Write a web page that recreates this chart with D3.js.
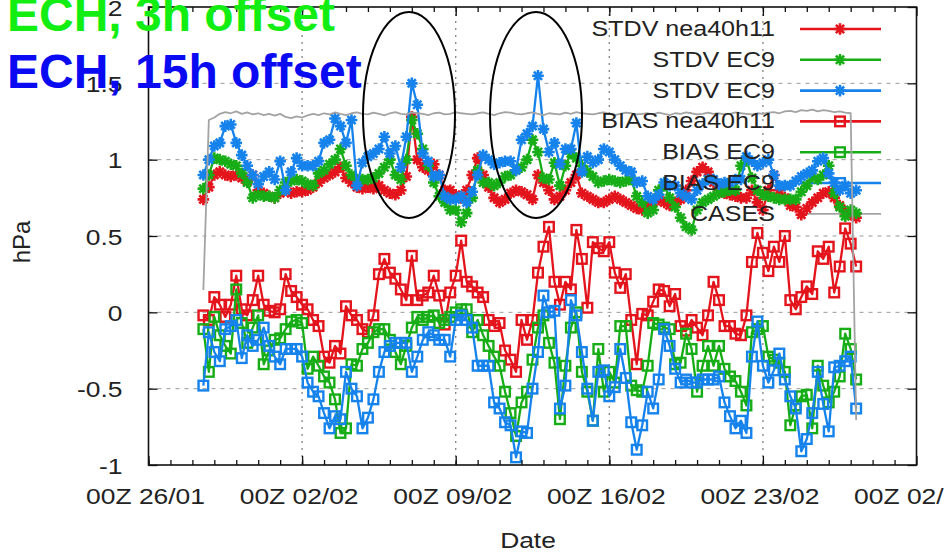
<!DOCTYPE html>
<html><head><meta charset="utf-8">
<script src="https://cdn.jsdelivr.net/npm/d3@7"></script>
<style>
html,body{margin:0;padding:0;background:#fff;overflow:hidden}
svg{display:block}
text{font-family:"Liberation Sans",Arial,Helvetica,sans-serif;fill:#222}
</style></head><body>
<svg id="chart" width="944" height="552"></svg>
<script>
// ---------- data ----------
const startTime = "2009-01-28T12:00:00Z";   // first sample
const stepHours = 6;                         // sampling interval
const xDomain = ["2009-01-26T00:00:00Z", "2009-03-02T00:00:00Z"];
const xMajorTicks = ["2009-01-26","2009-02-02","2009-02-09","2009-02-16","2009-02-23","2009-03-02"];
const yTicks = [-1, -0.5, 0, 0.5, 1, 1.5, 2];
const yTickLabels = ["-1", "-0.5", "0", "0.5", "1", "1.5", "2"];
const legendNames = ["STDV nea40h11", "STDV EC9", "STDV EC9", "BIAS nea40h11", "BIAS EC9", "BIAS EC9", "CASES"];

const stdvNea = [0.74,0.82,0.90,0.92,0.90,0.89,0.90,0.88,0.86,0.90,
 0.80,0.78,0.76,0.75,0.78,0.80,0.78,0.79,0.79,0.80,
 0.82,0.85,0.88,0.90,0.92,0.95,0.88,0.85,0.82,0.81,
 0.82,0.81,0.83,0.80,0.78,0.77,0.80,0.89,1.28,1.00,
 0.95,0.93,0.97,0.90,0.80,0.80,0.77,0.75,0.80,0.90,
 1.01,0.90,0.82,0.75,0.72,0.74,0.78,0.80,0.79,0.77,
 0.74,0.90,0.85,0.80,0.74,0.76,0.80,0.85,0.90,0.78,
 0.76,0.74,0.72,0.72,0.74,0.76,0.74,0.72,0.70,0.68,
 0.67,0.69,0.72,0.74,0.72,0.70,0.72,0.74,0.80,0.86,
 0.92,0.95,0.92,0.85,0.80,0.78,0.77,0.76,0.75,0.75,
 0.80,0.72,0.67,0.80,0.90,0.80,0.75,0.70,0.69,0.64,
 0.68,0.72,0.75,0.78,0.79,0.75,0.70,0.66,0.64,0.62];

const stdvEc9a = [0.81,0.90,1.01,1.00,0.99,0.97,0.96,0.91,0.85,0.75,
 0.77,0.76,0.76,0.75,0.80,0.85,0.86,0.87,0.86,0.84,
 0.83,0.91,0.93,0.97,1.00,1.07,0.96,0.90,0.87,0.87,
 0.87,0.88,0.91,0.95,1.00,0.90,0.87,1.00,1.26,1.17,
 1.07,0.96,0.85,0.76,0.72,0.67,0.67,0.59,0.65,0.75,
 0.93,0.85,0.85,0.83,0.85,0.89,0.90,0.93,0.95,1.00,
 1.13,1.05,0.88,0.87,0.98,0.83,0.96,1.04,1.01,0.96,
 0.92,0.89,0.85,0.86,0.87,0.86,0.85,0.86,0.87,0.76,
 0.72,0.65,0.67,0.80,0.83,0.75,0.69,0.62,0.56,0.54,
 0.67,0.72,0.74,0.76,0.78,0.79,0.80,0.80,0.96,1.00,
 0.88,0.80,0.77,0.76,0.75,0.74,0.74,0.74,0.74,0.79,
 0.83,0.89,0.87,0.90,0.96,0.78,0.69,0.63,0.67,0.65];

const stdvEc9b = [0.90,1.00,1.09,1.11,1.22,1.23,1.11,1.03,0.96,0.90,
 0.84,0.89,0.92,0.87,0.99,0.80,0.92,1.01,0.96,0.96,
 0.96,0.99,1.11,1.13,1.27,1.22,1.11,1.26,0.83,0.98,
 1.02,1.04,1.07,1.15,1.04,1.09,0.95,1.15,1.50,1.36,
 1.04,0.99,0.89,0.90,0.76,0.74,0.74,0.76,0.72,0.79,
 0.90,1.03,1.00,0.97,0.98,0.99,0.99,0.93,1.13,1.17,
 1.22,1.55,1.20,1.05,1.11,0.97,1.07,1.07,1.24,0.92,
 1.02,0.98,1.00,1.07,1.05,1.00,0.96,0.93,0.92,0.85,
 0.86,0.76,0.74,0.77,0.85,0.83,0.83,0.78,0.76,0.74,
 0.80,0.84,0.87,0.87,0.84,0.85,0.85,0.87,0.87,1.02,
 0.99,0.96,0.98,1.00,0.90,0.83,0.83,0.83,0.86,0.89,
 0.91,0.93,0.99,1.01,0.91,0.85,0.80,0.83,0.78,0.80];

const biasNea = [-0.02,-0.05,0.10,0.05,-0.03,0.05,0.24,0.02,-0.02,0.08,
 0.24,0.05,0.01,0.00,0.02,0.25,0.14,0.10,0.05,0.02,
 -0.05,-0.09,-0.29,-0.33,-0.22,-0.27,0.04,-0.02,-0.05,-0.11,
 -0.13,-0.02,0.25,0.35,0.26,0.22,0.15,0.08,0.37,0.08,
 0.11,0.13,0.24,0.11,-0.08,0.13,0.24,0.47,0.20,0.17,
 0.13,0.10,-0.05,-0.09,-0.07,-0.25,-0.31,-0.39,-0.05,-0.18,
 -0.05,0.26,0.43,0.56,0.20,0.05,0.20,0.15,0.54,0.35,
 0.03,0.46,0.42,0.40,0.46,0.26,0.16,0.25,-0.05,-0.34,
 -0.01,-0.02,0.07,0.15,0.14,0.04,0.12,-0.09,-0.12,-0.05,
 -0.10,-0.15,-0.02,0.20,0.08,-0.09,-0.09,-0.14,-0.15,-0.02,
 0.33,0.52,0.39,0.27,0.43,0.33,0.50,0.08,0.02,0.10,
 0.17,0.12,0.40,0.35,0.43,0.13,0.30,0.55,0.45,0.30];

const biasEc9a = [-0.11,-0.39,-0.03,-0.15,-0.22,-0.27,0.15,-0.07,-0.20,-0.10,
 -0.02,-0.34,-0.25,-0.18,-0.17,-0.11,-0.06,-0.05,-0.07,-0.37,
 -0.29,-0.35,-0.42,-0.46,-0.57,-0.79,-0.76,-0.34,-0.35,-0.24,
 -0.20,-0.13,-0.11,-0.11,-0.18,-0.26,-0.34,-0.22,-0.10,-0.03,
 -0.05,-0.03,-0.02,-0.07,-0.05,-0.03,0.00,0.02,0.02,-0.13,
 -0.05,-0.15,-0.22,-0.29,-0.35,-0.52,-0.66,-0.81,-0.59,-0.52,
 -0.31,-0.10,-0.02,-0.20,-0.33,-0.70,-0.35,-0.10,0.00,-0.39,
 -0.52,-0.71,-0.24,-0.52,-0.39,-0.46,-0.09,-0.09,-0.48,-0.51,
 -0.52,-0.35,-0.07,-0.08,-0.10,-0.11,-0.34,-0.33,-0.14,-0.24,
 -0.52,-0.35,-0.22,-0.35,-0.22,-0.37,-0.42,-0.45,-0.52,-0.61,
 -0.13,-0.11,-0.09,-0.29,-0.31,-0.33,-0.39,-0.74,-0.61,-0.55,
 -0.54,-0.76,-0.35,-0.48,-0.59,-0.52,-0.42,-0.14,-0.24,-0.44];

const biasEc9b = [-0.48,-0.13,-0.26,-0.32,-0.11,-0.09,-0.05,-0.30,-0.15,-0.22,
 -0.18,-0.10,-0.22,-0.29,-0.34,-0.24,-0.24,-0.24,-0.29,-0.46,
 -0.52,-0.55,-0.66,-0.76,-0.68,-0.70,-0.39,-0.50,-0.55,-0.76,
 -0.69,-0.57,-0.39,-0.26,-0.22,-0.20,-0.20,-0.20,-0.39,-0.29,
 -0.18,-0.13,-0.15,-0.18,-0.18,-0.29,-0.05,-0.02,-0.05,-0.10,
 -0.35,-0.35,-0.35,-0.59,-0.63,-0.72,-0.74,-0.95,-0.78,-0.79,
 -0.50,-0.26,0.11,0.00,0.01,-0.63,-0.48,0.08,-0.02,-0.26,
 -0.50,-0.71,-0.39,-0.38,-0.55,-0.49,-0.24,-0.43,-0.72,-0.90,
 -0.74,-0.52,-0.63,-0.44,-0.11,-0.22,-0.37,-0.46,-0.44,-0.46,
 -0.46,-0.44,-0.44,-0.44,-0.42,-0.59,-0.68,-0.76,-0.71,-0.79,
 -0.29,-0.06,-0.35,-0.46,-0.38,-0.27,-0.44,-0.55,-0.63,-0.91,
 -0.83,-0.66,-0.39,-0.60,-0.78,-0.36,-0.35,-0.32,-0.29,-0.63];

const cases = [573,1130,1138,1150,1156,1152,1158,1150,1155,1148,
 1152,1146,1150,1144,1150,1140,1136,1142,1138,1145,
 1150,1146,1152,1148,1155,1150,1146,1152,1155,1150,
 1148,1154,1150,1145,1152,1156,1150,1148,1155,1152,
 1150,1146,1152,1154,1148,1150,1156,1152,1150,1148,
 1152,1155,1150,1146,1152,1156,1154,1150,1148,1152,
 1155,1150,1146,1152,1150,1148,1154,1150,1156,1152,
 1150,1148,1152,1155,1150,1146,1150,1154,1152,1148,
 1150,1152,1148,1154,1150,1146,1152,1150,1155,1152,
 1148,1150,1154,1150,1152,1148,1150,1155,1152,1150,
 1148,1152,1150,1154,1156,1152,1158,1160,1156,1162,
 1160,1164,1158,1162,1160,1156,1158,1154,1152,147];

// ---------- setup ----------
const RED = "#e3141c", GREEN = "#17ad17", BLUE = "#1683ec", GRAY = "#a3a3a3";
const svg = d3.select("#chart");
const P = {left: 148.5, right: 916.5, top: 7, bottom: 465};
const SX = 1.2; // horizontal stretch of the original raster text

const t0 = new Date(startTime).getTime();
const times = stdvNea.map((_, i) => new Date(t0 + i * stepHours * 3600e3));

const x = d3.scaleUtc().domain(xDomain.map(d => new Date(d))).range([P.left, P.right]);
const y = d3.scaleLinear().domain([-1, 2]).range([P.bottom, P.top]);
const y2 = d3.scaleLinear().domain([0, 1500]).range([P.bottom, P.top]);

const series = [
  {values: stdvNea,  color: RED,   marker: "star", scale: y},
  {values: stdvEc9a, color: GREEN, marker: "star", scale: y},
  {values: stdvEc9b, color: BLUE,  marker: "star", scale: y},
  {values: biasNea,  color: RED,   marker: "square", scale: y},
  {values: biasEc9a, color: GREEN, marker: "square", scale: y},
  {values: biasEc9b, color: BLUE,  marker: "square", scale: y},
  {values: cases,    color: GRAY,  marker: null, scale: y2}
];

function drawMarker(g, type, cx, cy, color) {
  if (type === "star") {
    const a = 5.8, b = 4.1;
    g.append("path")
      .attr("d", `M${cx-a},${cy}H${cx+a}M${cx},${cy-a}V${cy+a}M${cx-b},${cy-b}L${cx+b},${cy+b}M${cx-b},${cy+b}L${cx+b},${cy-b}`)
      .attr("stroke", color).attr("stroke-width", 2.6).attr("fill", "none");
  } else if (type === "square") {
    g.append("rect").attr("x", cx - 4.8).attr("y", cy - 4.8).attr("width", 9.6).attr("height", 9.6)
      .attr("stroke", color).attr("stroke-width", 2.4).attr("fill", "none");
  }
}

// ---------- grid ----------
const grid = svg.append("g");
yTicks.filter(v => v > -1 && v < 2).forEach(v => {
  grid.append("line").attr("x1", P.left).attr("x2", P.right).attr("y1", y(v)).attr("y2", y(v))
    .attr("stroke", "#9a9a9a").attr("stroke-width", 1).attr("stroke-dasharray", "4,5");
});
xMajorTicks.slice(1, -1).forEach(d => {
  const xv = x(new Date(d + "T00:00:00Z"));
  grid.append("line").attr("x1", xv).attr("x2", xv).attr("y1", P.top).attr("y2", P.bottom)
    .attr("stroke", "#8c8c8c").attr("stroke-width", 1.4).attr("stroke-dasharray", "2,5");
});

// ---------- legend samples (drawn under data, as in gnuplot) ----------
const legendBase = 36, legendStep = 30.8;
const keyG = svg.append("g");
series.forEach((s, k) => {
  const ly = legendBase + k * legendStep - 7;
  keyG.append("line").attr("x1", 800).attr("x2", 881).attr("y1", ly).attr("y2", ly)
    .attr("stroke", s.color).attr("stroke-width", s.marker ? 2.6 : 1.8);
  if (s.marker) drawMarker(keyG, s.marker, 840, ly, s.color);
});

// ---------- data ----------
const dataG = svg.append("g");
series.forEach(s => {
  const line = d3.line().x((d, i) => x(times[i])).y(d => s.scale(d));
  dataG.append("path").attr("d", line(s.values)).attr("fill", "none")
    .attr("stroke", s.color).attr("stroke-width", s.marker ? 2.3 : 1.8).attr("stroke-linejoin", "round");
  if (s.marker) {
    const mg = dataG.append("g");
    s.values.forEach((v, i) => drawMarker(mg, s.marker, x(times[i]), s.scale(v), s.color));
  }
});

// ---------- axes ----------
const fmt = d3.utcFormat("%HZ %d/%m");
const majorDates = xMajorTicks.map(d => new Date(d + "T00:00:00Z"));
const minorDates = d3.utcDay.range(new Date(xDomain[0]), new Date(xDomain[1]));

const axG = svg.append("g");
// bottom
axG.append("g").attr("transform", `translate(0,${P.bottom})`)
  .call(d3.axisBottom(x).tickValues(minorDates).tickSize(-5).tickFormat(""));
const bottomMajor = axG.append("g").attr("transform", `translate(0,${P.bottom})`)
  .call(d3.axisBottom(x).tickValues(majorDates).tickSize(-9).tickFormat(fmt));
bottomMajor.selectAll("text").attr("y", 39).attr("dy", 0).attr("x", -3.5 / SX)
  .attr("transform", `scale(${SX},1)`).style("font-size", "22px").style("fill", "#222");
// top (mirror)
axG.append("g").attr("transform", `translate(0,${P.top})`)
  .call(d3.axisTop(x).tickValues(minorDates).tickSize(-5).tickFormat(""));
axG.append("g").attr("transform", `translate(0,${P.top})`)
  .call(d3.axisTop(x).tickValues(majorDates).tickSize(-9).tickFormat(""));
// left
const leftAx = axG.append("g").attr("transform", `translate(${P.left},0)`)
  .call(d3.axisLeft(y).tickValues(yTicks).tickSize(-9).tickFormat((d, i) => yTickLabels[i]));
leftAx.selectAll("text").attr("x", -26 / SX).attr("dy", 8)
  .attr("transform", `scale(${SX},1)`).style("font-size", "22px").style("fill", "#222");
// right (mirror)
axG.append("g").attr("transform", `translate(${P.right},0)`)
  .call(d3.axisRight(y).tickValues(yTicks).tickSize(-9).tickFormat(""));
axG.selectAll(".domain").remove();
axG.selectAll(".tick line").attr("stroke", "#111").attr("stroke-width", 1.3);

// border
svg.append("rect").attr("x", P.left).attr("y", P.top).attr("width", P.right - P.left).attr("height", P.bottom - P.top)
  .attr("fill", "none").attr("stroke", "#111").attr("stroke-width", 1.6);

// axis titles
svg.append("text").attr("transform", `translate(${528},${548}) scale(${SX},1)`)
  .attr("text-anchor", "middle").style("font-size", "22px").text("Date");
svg.append("text").attr("transform", `translate(${30},${242}) rotate(-90)`)
  .attr("text-anchor", "middle").style("font-size", "24px").text("hPa");

// legend text
legendNames.forEach((n, k) => {
  svg.append("text").attr("transform", `translate(775,${legendBase + k * legendStep}) scale(1.14,1)`)
    .attr("text-anchor", "end").style("font-size", "22px").text(n);
});

// ---------- annotations ----------
svg.append("ellipse").attr("cx", 409).attr("cy", 115).attr("rx", 46).attr("ry", 103)
  .attr("fill", "none").attr("stroke", "#000").attr("stroke-width", 2);
svg.append("ellipse").attr("cx", 536).attr("cy", 115).attr("rx", 46).attr("ry", 103)
  .attr("fill", "none").attr("stroke", "#000").attr("stroke-width", 2);

svg.append("text").attr("x", 7).attr("y", 31).style("font-size", "48px").style("font-weight", "bold")
  .style("fill", "#12ee12").text("ECH, 3h offset");
svg.append("text").attr("x", 7).attr("y", 88).style("font-size", "48px").style("font-weight", "bold")
  .style("fill", "#0a0af2").text("ECH, 15h offset");
</script>
</body></html>
